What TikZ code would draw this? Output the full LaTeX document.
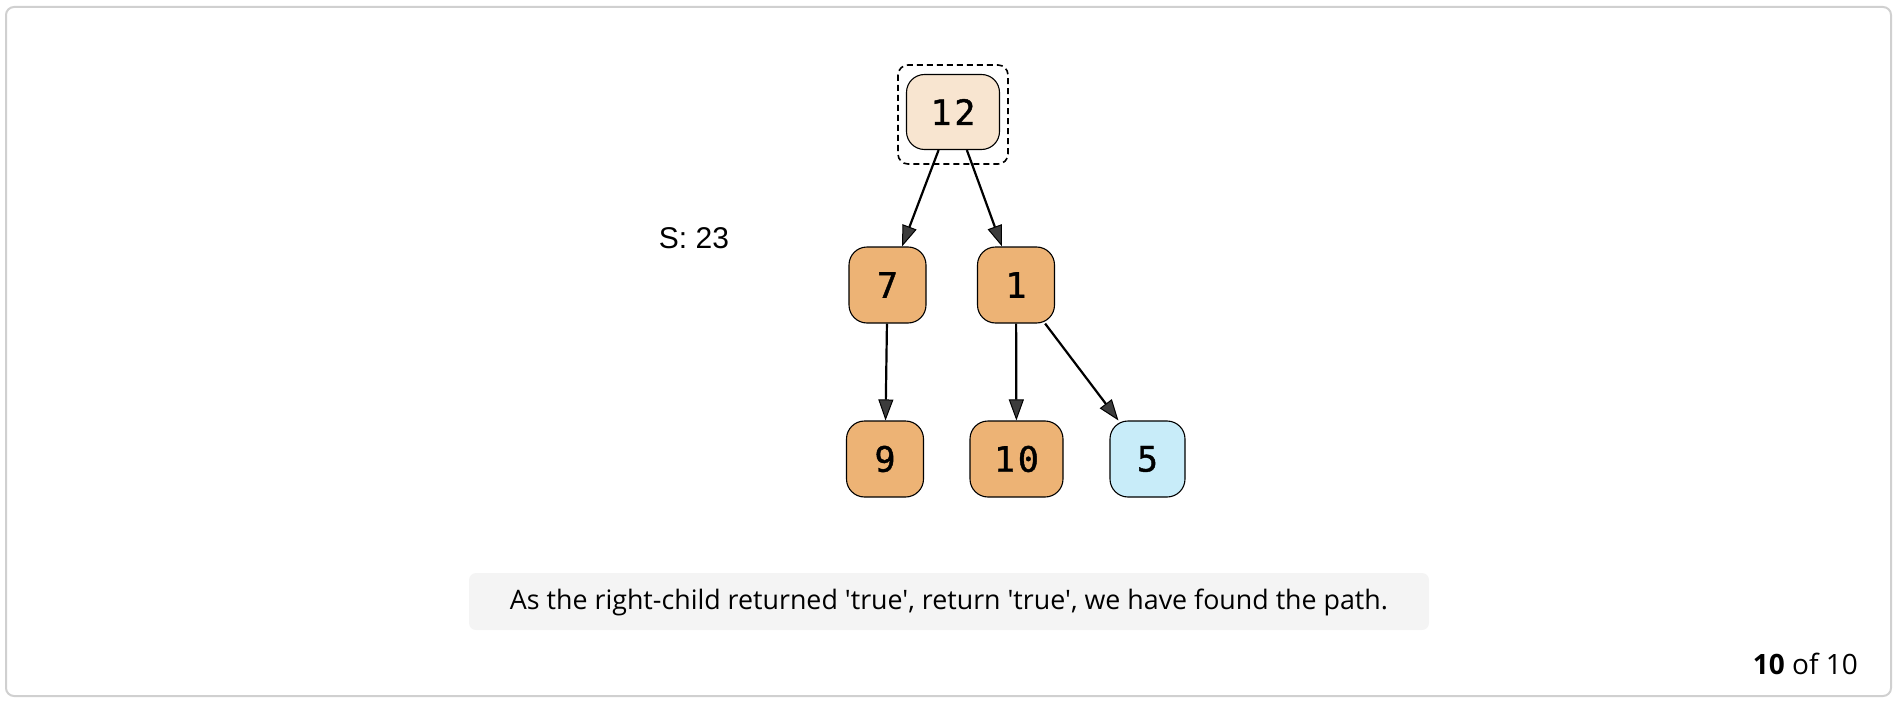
\documentclass[tikz,border=0pt]{standalone}
\usepackage{fontspec}
\usetikzlibrary{arrows.meta}
\newfontfamily\labelfont[FakeBold=1.2,LetterSpace=8]{DejaVu Sans Mono}
\newfontfamily\sumfont{Liberation Sans}
\newfontfamily\notefont{Open Sans}
\definecolor{framegray}{RGB}{208,208,208}
\definecolor{rootfill}{RGB}{248,229,208}
\definecolor{nodefill}{RGB}{237,179,117}
\definecolor{hitfill}{RGB}{200,236,249}
\definecolor{notefill}{RGB}{244,244,244}
\definecolor{tipgray}{RGB}{60,60,60}
\tikzset{
  treenode/.style={draw=black, line width=1.1pt, rounded corners=18pt,
    minimum width=77pt, minimum height=76pt, inner sep=0pt,
    font=\labelfont\fontsize{35}{35}\selectfont},
  wide/.style={minimum width=93pt},
  link/.style={line width=2.2pt,
    -{Triangle[length=21pt,width=15pt,fill=tipgray,line width=1pt]}},
}
\begin{document}
\begin{tikzpicture}[x=1pt,y=-1pt]
\useasboundingbox (0,0) rectangle (1900,706);
% outer card
\draw[framegray, line width=2pt, rounded corners=8pt] (6,7) rectangle (1891,696);

% tree
\node[treenode, wide, fill=rootfill, minimum height=75pt] (n12) at (953,112) {12};
\node[treenode, fill=nodefill] (n7) at (887.5,285) {7};
\node[treenode, fill=nodefill] (n1) at (1016,285) {1};
\node[treenode, fill=nodefill] (n9) at (885,459) {9};
\node[treenode, wide, fill=nodefill] (n10) at (1016.5,459) {10};
\node[treenode, fill=hitfill, minimum width=75pt] (n5) at (1147.5,459) {5};

% current node marker
\draw[black, line width=1.6pt, dash pattern=on 6pt off 4pt, rounded corners=10pt]
  (898,65) rectangle (1008,164);

\draw[link] (n12) -- (n7);
\draw[link] (n12) -- (n1);
\draw[link] (n7) -- (n9);
\draw[link] (n1) -- (n10);
\draw[link] (n1) -- (n5);

% running sum
\node[font=\sumfont\fontsize{30}{30}\selectfont, inner sep=0pt] (sum) at (694,238) {S: 23};

% explanation
\fill[notefill, rounded corners=7pt] (469,573) rectangle (1429,630);
\node[font=\notefont\fontsize{26.8}{26.8}\selectfont, inner sep=0pt] (note) at (949,602)
  {As the right-child returned 'true', return 'true', we have found the path.};

% step counter
\node[font=\notefont\fontsize{28}{28}\selectfont, inner sep=0pt, anchor=east] (count) at (1858,664)
  {\textbf{10} of 10};
\end{tikzpicture}
\end{document}
